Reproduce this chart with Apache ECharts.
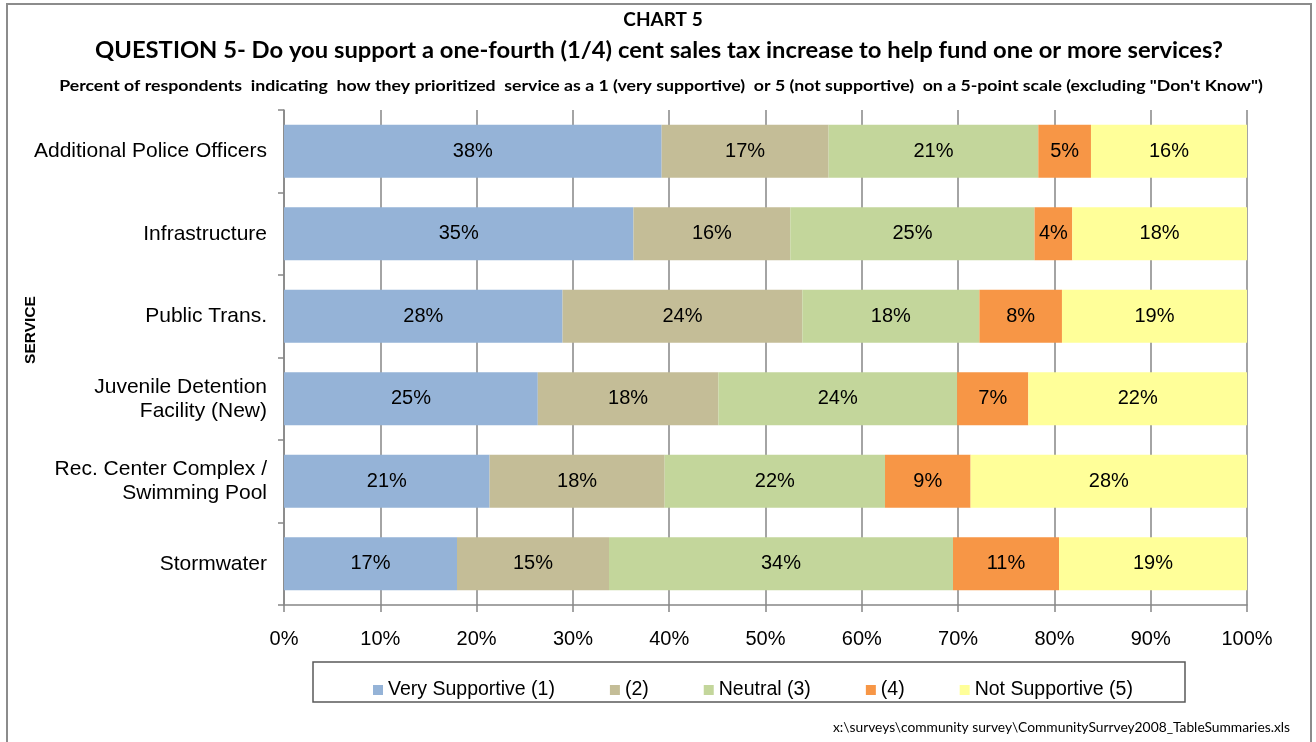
<!DOCTYPE html>
<html>
<head>
<meta charset="utf-8">
<title>Chart 5</title>
<script src="https://cdn.jsdelivr.net/npm/echarts@6/dist/echarts.min.js"></script>
<style>
    html, body { margin: 0; padding: 0; background: #fff; }
    #chart { width: 1316px; height: 742px; }
</style>
</head>
<body>
<div id="chart"></div>
<script>
// services (top to bottom)
var categories = ['Additional Police Officers', 'Infrastructure', 'Public Trans.',
    'Juvenile Detention\nFacility (New)', 'Rec. Center Complex /\nSwimming Pool', 'Stormwater'];
var seriesNames = ['Very Supportive (1)', '(2)', 'Neutral (3)', '(4)', 'Not Supportive (5)'];
var seriesColors = ['#95B3D7', '#C4BD97', '#C3D69B', '#F79646', '#FFFF99'];

// percent of respondents (labels show the rounded value)
var verySupportive = [38.0, 35.2, 28.0, 25.3, 20.9, 17.3];
var rating2 = [16.8, 15.8, 24.1, 18.0, 17.8, 15.2];
var neutral = [21.1, 24.6, 17.8, 23.8, 22.4, 34.4];
var rating4 = [5.3, 3.8, 8.3, 7.1, 8.7, 10.6];
var notSupportive = [15.7, 17.6, 18.6, 21.8, 28.1, 18.8];

var xTicks = [0, 10, 20, 30, 40, 50, 60, 70, 80, 90, 100];

var FONT = '"Liberation Sans", Arial, sans-serif';
var TITLE_FONT = 'Lato, "Open Sans", sans-serif';

var rows = [verySupportive, rating2, neutral, rating4, notSupportive];

// bars are drawn as share of the row total (100% stacked)
var totals = categories.map(function (c, i) {
    var s = 0;
    rows.forEach(function (r) { s += r[i]; });
    return s;
});

var series = rows.map(function (r, k) {
    return {
        name: seriesNames[k],
        type: 'bar',
        stack: 'total',
        barWidth: 53,
        itemStyle: { color: seriesColors[k] },
        label: {
            show: true,
            position: 'inside',
            color: '#000',
            fontSize: 20,
            fontFamily: FONT,
            formatter: function (p) {
                return Math.round(r[p.dataIndex]) + '%';
            }
        },
        emphasis: { disabled: true },
        data: r.map(function (v, i) { return v / totals[i] * 100; })
    };
});

// title lines are a bit wider than the font, so stretch them a little
function titleText(text, x, y, size, stretch) {
    return {
        type: 'text',
        x: x,
        y: y,
        scaleX: stretch,
        silent: true,
        style: {
            text: text, x: 0, y: 0, align: 'center', verticalAlign: 'middle',
            fontSize: size, fontWeight: 'bold', fontFamily: TITLE_FONT, fill: '#000'
        }
    };
}

var chart = echarts.init(document.getElementById('chart'));
var option = {
    animation: false,
    backgroundColor: '#fff',
    color: seriesColors,
    grid: { left: 284, right: 69, top: 110, bottom: 137 },
    legend: {
        data: seriesNames,
        left: 368,
        top: 675,
        icon: 'rect',
        itemWidth: 10,
        itemHeight: 10,
        itemGap: 55,
        textStyle: { fontSize: 19.5, fontFamily: FONT, color: '#000' }
    },
    xAxis: {
        type: 'value',
        min: xTicks[0],
        max: xTicks[xTicks.length - 1],
        interval: xTicks[1] - xTicks[0],
        axisLine: { show: true, lineStyle: { color: '#868686', width: 1.5 } },
        axisTick: { show: true, length: 7, lineStyle: { color: '#868686', width: 1.5 } },
        splitLine: { show: true, lineStyle: { color: '#868686', width: 1.5 } },
        axisLabel: {
            formatter: '{value}%',
            fontSize: 20,
            fontFamily: FONT,
            color: '#000',
            margin: 24
        }
    },
    yAxis: {
        type: 'category',
        inverse: true,
        data: categories,
        axisLine: { show: true, lineStyle: { color: '#868686', width: 1.5 } },
        axisTick: { show: true, length: 6, lineStyle: { color: '#868686', width: 1.5 } },
        axisLabel: {
            fontSize: 21,
            lineHeight: 24,
            fontFamily: FONT,
            color: '#000',
            margin: 17
        }
    },
    graphic: [
        // outer frame
        {
            type: 'rect',
            shape: { x: 7, y: 4, width: 1304, height: 760 },
            style: { fill: 'none', stroke: '#8c8c8c', lineWidth: 2 },
            silent: true
        },
        // legend box
        {
            type: 'rect',
            shape: { x: 313, y: 662, width: 872, height: 40 },
            style: { fill: 'none', stroke: '#595959', lineWidth: 1.5 },
            silent: true
        },
        titleText('CHART 5', 663, 20, 19, 1.0),
        titleText('QUESTION 5- Do you support a one-fourth (1/4) cent sales tax increase to help fund one or more services?', 659, 51, 22, 1.08),
        titleText('Percent of respondents  indicating  how they prioritized  service as a 1 (very supportive)  or 5 (not supportive)  on a 5-point scale (excluding "Don\'t Know")', 661, 86, 15, 1.18),
        // axis name
        {
            type: 'text',
            x: 31,
            y: 330,
            rotation: Math.PI / 2,
            silent: true,
            style: {
                text: 'SERVICE', x: 0, y: 0, align: 'center', verticalAlign: 'middle',
                fontSize: 15.5, fontWeight: 'bold', fontFamily: FONT, fill: '#000'
            }
        },
        // source file
        {
            type: 'text',
            silent: true,
            style: {
                text: 'x:\\surveys\\community survey\\CommunitySurrvey2008_TableSummaries.xls',
                x: 1290, y: 728, align: 'right', verticalAlign: 'middle',
                fontSize: 13.8, fontFamily: TITLE_FONT, fill: '#000'
            }
        }
    ],
    series: series
};
chart.setOption(option);
</script>
</body>
</html>
